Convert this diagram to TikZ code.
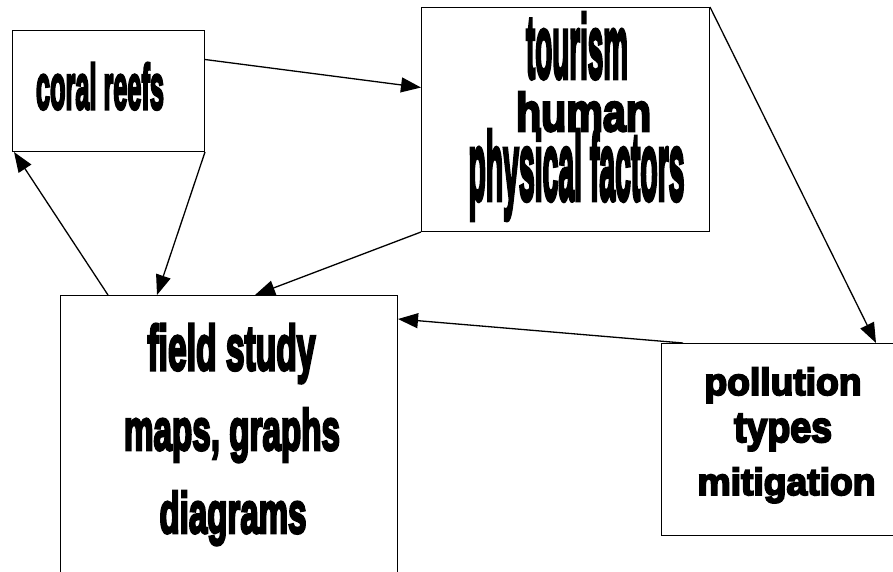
\documentclass[tikz,border=0pt]{standalone}
\usepackage{fontspec}
\usetikzlibrary{arrows.meta}
\newfontfamily\heavyfont[FakeBold=5]{Liberation Sans Bold}
\newcommand{\fitline}[3]{\resizebox{#1pt}{#2pt}{\heavyfont #3}}
\tikzset{
  box/.style={draw, line width=1pt, anchor=north west, inner sep=0pt},
  txt/.style={anchor=base, inner sep=0pt, outer sep=0pt},
  link/.style={line width=1.3pt, -{Triangle[length=20pt,width=15pt]}}
}
\begin{document}
\begin{tikzpicture}[x=1pt,y=-1pt]
\useasboundingbox (0,0) rectangle (893,571);
\clip (0,0) rectangle (893,571);
\fill[white] (0,0) rectangle (893,571);
% boxes
\node[box, minimum width=192pt, minimum height=121pt] (coral) at (12,30) {};
\node[box, minimum width=288pt, minimum height=224pt] (tour) at (421,7) {};
\node[box, minimum width=337pt, minimum height=305pt] (field) at (60,295) {};
\node[box, minimum width=233pt, minimum height=192pt] (poll) at (661,343) {};
% texts
\node[txt] (tcoral) at (100,109) {\fitline{128}{46}{coral reefs}};
\node[txt] (ttour1) at (577,78) {\fitline{102}{65}{tourism}};
\node[txt] (ttour2) at (583.5,131) {\fitline{135}{39}{human}};
\node[txt] (ttour3) at (576.5,200) {\fitline{216}{70}{physical factors}};
\node[txt] (tfield1) at (231.5,370) {\fitline{168}{46}{field study}};
\node[txt] (tfield2) at (232,450) {\fitline{216}{42}{maps, graphs}};
\node[txt] (tfield3) at (233,533) {\fitline{147}{42}{diagrams}};
\node[txt] (tpoll1) at (783,395) {\fitline{157}{27.5}{pollution}};
\node[txt] (tpoll2) at (783,442) {\fitline{98}{28}{types}};
\node[txt] (tpoll3) at (786.5,495) {\fitline{178}{27.5}{mitigation}};
% connectors
\draw[link] ([yshift=31.5pt]coral.east) -- ([yshift=32pt]tour.west);
\draw[link] (coral.south east) -- ([xshift=97pt]field.north west);
\draw[link] ([xshift=48pt]field.north west) -- ([xshift=2pt]coral.south west);
\draw[link] (tour.south west) -- ([xshift=195pt]field.north west);
\draw[link] (tour.north east) -- ([xshift=215pt]poll.north west);
\draw[link] ([xshift=22pt]poll.north west) -- ([yshift=-24pt]field.north east);
\end{tikzpicture}
\end{document}
